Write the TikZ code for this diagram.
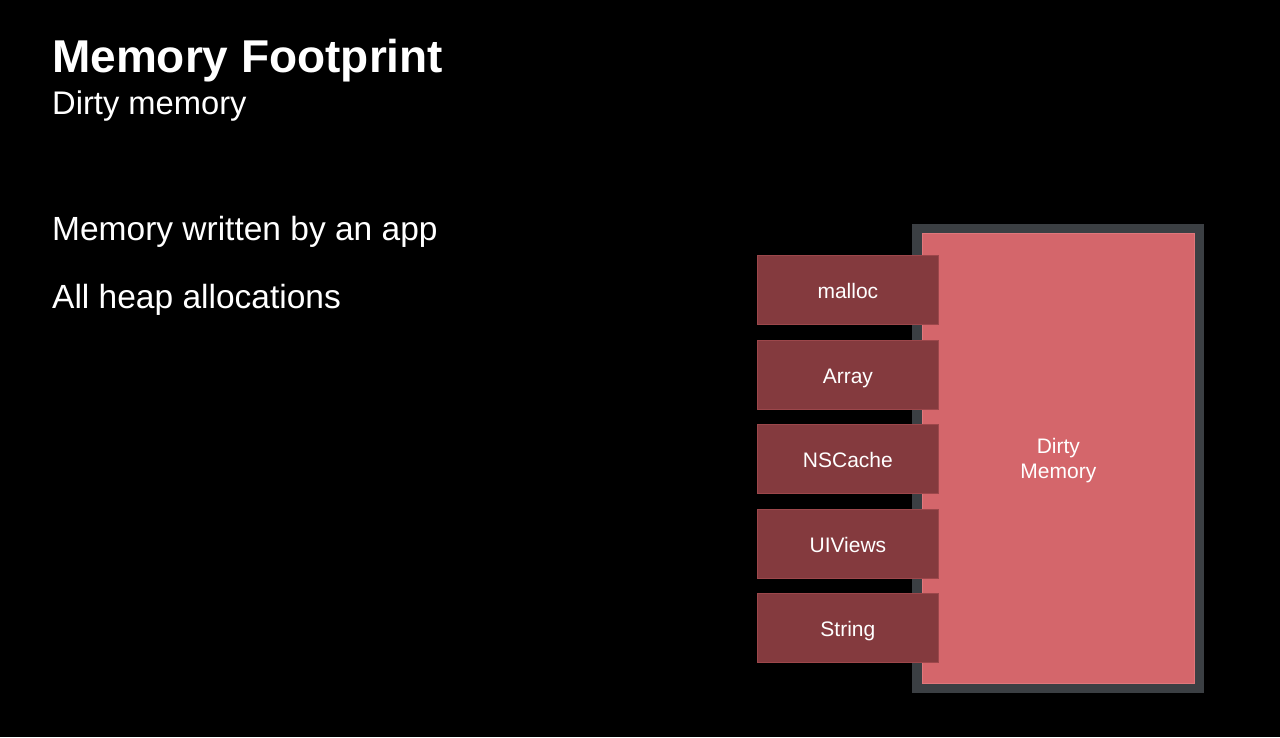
\documentclass[tikz,border=0pt]{standalone}
\usepackage{fontspec}
\setmainfont{Liberation Sans}
\definecolor{pinkfill}{HTML}{D4666B}
\definecolor{pinkline}{HTML}{E0777B}
\definecolor{darkfill}{HTML}{843A3E}
\definecolor{darkline}{HTML}{9C474B}
\definecolor{frame}{HTML}{3B3F43}
\begin{document}
\begin{tikzpicture}[x=1pt,y=-1pt,
  alloc/.style={draw=darkline, line width=0.8pt, fill=darkfill, minimum width=181pt, minimum height=69pt, inner sep=0pt, text height=18pt, text depth=0pt, text=white, font=\fontsize{21}{25}\selectfont, anchor=north west},
  txt/.style={text=white, anchor=base west, inner sep=0pt}]
\fill[black] (0,0) rectangle (1280,737);
\useasboundingbox (0,0) rectangle (1280,737);
\node[txt, font=\fontsize{46}{54}\selectfont\bfseries] (title) at (52,72) {Memory Footprint};
\node[txt, font=\fontsize{32.7}{38}\selectfont] (sub) at (52,114) {Dirty memory};
\node[txt, font=\fontsize{33.5}{40}\selectfont] (b1) at (52,240) {Memory written by an app};
\node[txt, font=\fontsize{33.5}{40}\selectfont] (b2) at (52,308) {All heap allocations};
\fill[frame] (912,224) rectangle (1204,692.5);
\node[draw=pinkline, line width=0.8pt, fill=pinkfill, minimum width=272pt, minimum height=449.5pt, inner sep=0pt, anchor=north west, text=white, align=center, text depth=-2pt, font=\fontsize{21}{25}\selectfont] (dirty) at (922,233.3) {Dirty\\Memory};
\node[alloc] (malloc) at (757,255) {malloc};
\node[alloc] (array) at (757,339.5) {Array};
\node[alloc] (nscache) at (757,424) {NSCache};
\node[alloc] (uiviews) at (757,508.5) {UIViews};
\node[alloc] (string) at (757,593) {String};
\end{tikzpicture}
\end{document}
